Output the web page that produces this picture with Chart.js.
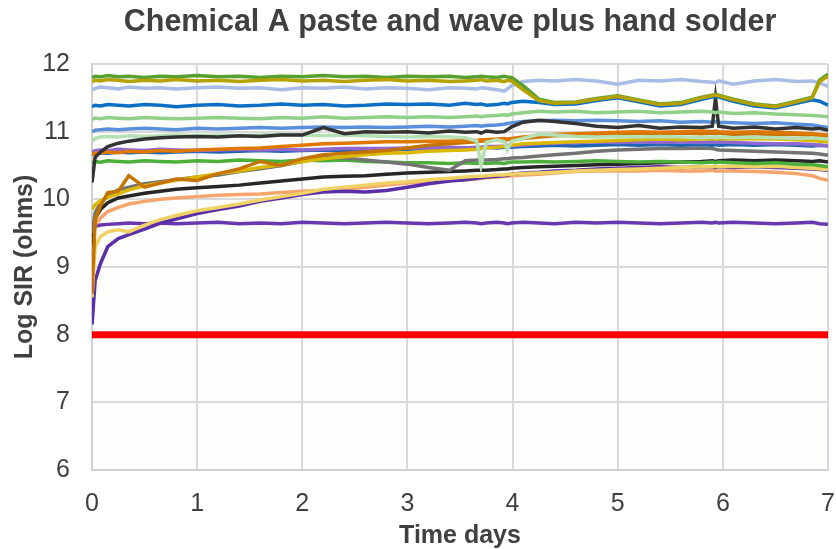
<!DOCTYPE html>
<html>
<head>
<meta charset="utf-8">
<script src="https://cdn.jsdelivr.net/npm/chart.js@4.4.1/dist/chart.umd.min.js"></script>
<style>
  html, body { margin: 0; padding: 0; background: #ffffff; }
  #wrap { width: 836px; height: 549px; position: relative; }
</style>
</head>
<body>
<div id="wrap"><canvas id="c" width="836" height="549"></canvas></div>
<script>
const chartTitle = "Chemical A paste and wave plus hand solder";
const xTitle = "Time days";
const yTitle = "Log SIR (ohms)";
const xTicks = [0, 1, 2, 3, 4, 5, 6, 7];
const yTicks = [6, 7, 8, 9, 10, 11, 12];

const days = [
  0, 0.03, 0.08, 0.15, 0.25, 0.35, 0.5, 0.65, 0.8, 1,
  1.2, 1.4, 1.6, 1.8, 2, 2.2, 2.4, 2.6, 2.8, 3,
  3.2, 3.4, 3.55, 3.66, 3.7, 3.75, 3.85, 3.92, 3.95, 3.99,
  4.1, 4.25, 4.4, 4.6, 4.8, 5, 5.2, 5.4, 5.6, 5.8,
  5.9, 5.93, 5.96, 6.1, 6.3, 6.5, 6.7, 6.85, 6.92, 7
];

const greenTop = [
  11.80, 11.82, 11.81, 11.83, 11.81, 11.82, 11.80, 11.82, 11.81, 11.83,
  11.81, 11.82, 11.80, 11.82, 11.81, 11.83, 11.81, 11.82, 11.80, 11.82,
  11.81, 11.82, 11.80, 11.81, 11.82, 11.81, 11.80, 11.82, 11.81, 11.80,
  11.68, 11.48, 11.43, 11.44, 11.49, 11.53, 11.47, 11.41, 11.43, 11.51,
  11.54, 11.55, 11.54, 11.48, 11.41, 11.38, 11.45, 11.51, 11.76, 11.85
];
const olive = [
  11.74, 11.76, 11.75, 11.77, 11.76, 11.74, 11.76, 11.75, 11.77, 11.75,
  11.76, 11.74, 11.76, 11.77, 11.75, 11.76, 11.74, 11.76, 11.77, 11.75,
  11.76, 11.74, 11.75, 11.76, 11.77, 11.75, 11.76, 11.74, 11.76, 11.75,
  11.62, 11.46, 11.42, 11.43, 11.48, 11.52, 11.46, 11.40, 11.42, 11.50,
  11.53, 11.54, 11.53, 11.47, 11.40, 11.37, 11.44, 11.50, 11.74, 11.82
];
const lavender = [
  11.62, 11.64, 11.66, 11.65, 11.63, 11.66, 11.64, 11.65, 11.63, 11.65,
  11.66, 11.64, 11.65, 11.62, 11.65, 11.64, 11.66, 11.63, 11.65, 11.64,
  11.62, 11.65, 11.64, 11.63, 11.65, 11.64, 11.62, 11.60, 11.63, 11.68,
  11.74, 11.76, 11.75, 11.77, 11.75, 11.70, 11.76, 11.75, 11.77, 11.74,
  11.73, 11.72, 11.75, 11.70, 11.75, 11.77, 11.74, 11.75, 11.72, 11.67
];
const blue = [
  11.37, 11.39, 11.38, 11.40, 11.39, 11.38, 11.40, 11.39, 11.37, 11.39,
  11.40, 11.38, 11.39, 11.41, 11.39, 11.40, 11.38, 11.39, 11.41, 11.40,
  11.41, 11.39, 11.42, 11.40, 11.41, 11.39, 11.40, 11.42, 11.41, 11.43,
  11.45, 11.43, 11.40, 11.41, 11.46, 11.50, 11.44, 11.38, 11.40, 11.48,
  11.51, 11.52, 11.51, 11.45, 11.38, 11.35, 11.42, 11.47, 11.45, 11.39
];
const lightGreen = [
  11.18, 11.20, 11.19, 11.21, 11.20, 11.19, 11.21, 11.20, 11.19, 11.20,
  11.21, 11.20, 11.19, 11.21, 11.20, 11.22, 11.20, 11.21, 11.22, 11.21,
  11.22, 11.21, 11.22, 11.23, 11.22, 11.23, 11.24, 11.25, 11.24, 11.26,
  11.28, 11.30, 11.29, 11.30, 11.28, 11.29, 11.30, 11.28, 11.29, 11.30,
  11.29, 11.28, 11.29, 11.27, 11.28, 11.26, 11.25, 11.24, 11.23, 11.22
];
const cornflower = [
  11.00, 11.02, 11.03, 11.04, 11.03, 11.04, 11.05, 11.04, 11.03, 11.05,
  11.04, 11.05, 11.06, 11.05, 11.06, 11.07, 11.06, 11.07, 11.06, 11.07,
  11.08, 11.07, 11.08, 11.09, 11.08, 11.09, 11.10, 11.11, 11.12, 11.13,
  11.15, 11.16, 11.17, 11.16, 11.17, 11.16, 11.15, 11.16, 11.14, 11.15,
  11.14, 11.15, 11.14, 11.13, 11.12, 11.13, 11.11, 11.10, 11.08, 11.06
];
const mint = [
  10.85, 10.90, 10.92, 10.93, 10.92, 10.94, 10.93, 10.94, 10.95, 10.94,
  10.95, 10.94, 10.95, 10.96, 10.95, 10.94, 10.95, 10.94, 10.93, 10.92,
  10.93, 10.92, 10.91, 10.86, 10.50, 10.84, 10.88, 10.85, 10.73, 10.86,
  10.90, 10.96, 10.95, 10.93, 10.92, 10.93, 10.92, 10.93, 10.92, 10.91,
  10.92, 10.91, 10.92, 10.91, 10.92, 10.91, 10.90, 10.91, 10.90, 10.89
];
const blackA = [
  10.25, 10.62, 10.70, 10.78, 10.83, 10.86, 10.89, 10.91, 10.92, 10.93,
  10.92, 10.94, 10.93, 10.95, 10.95, 11.06, 10.97, 11.00, 10.99, 11.00,
  10.98, 11.01, 10.99, 11.00, 10.98, 11.01, 10.99, 11.00, 11.03, 11.07,
  11.14, 11.17, 11.15, 11.12, 11.08, 11.06, 11.09, 11.05, 11.07, 11.06,
  11.08, 11.50, 11.08, 11.05, 11.07, 11.04, 11.06, 11.04, 11.05, 11.02
];
const orange = [
  10.66, 10.68, 10.69, 10.70, 10.69, 10.71, 10.70, 10.72, 10.71, 10.73,
  10.74, 10.75, 10.76, 10.78, 10.80, 10.82, 10.83, 10.84, 10.85, 10.85,
  10.86, 10.86, 10.87, 10.87, 10.88, 10.88, 10.89, 10.90, 10.89, 10.90,
  10.92, 10.94, 10.96, 10.97, 10.98, 10.99, 11.00, 10.99, 11.00, 11.01,
  11.00, 11.01, 11.00, 10.99, 11.00, 10.99, 10.98, 10.97, 10.96, 10.95
];
const purple = [
  10.70, 10.72, 10.73, 10.72, 10.74, 10.73, 10.72, 10.74, 10.73, 10.72,
  10.73, 10.74, 10.73, 10.74, 10.73, 10.74, 10.75, 10.75, 10.75, 10.76,
  10.76, 10.77, 10.76, 10.77, 10.77, 10.78, 10.78, 10.79, 10.80, 10.79,
  10.80, 10.82, 10.83, 10.84, 10.85, 10.84, 10.85, 10.84, 10.85, 10.84,
  10.85, 10.84, 10.85, 10.84, 10.83, 10.82, 10.82, 10.81, 10.80, 10.79
];
const greenB = [
  10.54, 10.56, 10.55, 10.57, 10.56, 10.55, 10.57, 10.56, 10.55, 10.57,
  10.56, 10.58, 10.57, 10.56, 10.58, 10.57, 10.58, 10.56, 10.55, 10.54,
  10.54, 10.53, 10.54, 10.53, 10.54, 10.53, 10.54, 10.53, 10.54, 10.55,
  10.55, 10.56, 10.55, 10.56, 10.57, 10.56, 10.55, 10.56, 10.55, 10.54,
  10.55, 10.54, 10.55, 10.54, 10.53, 10.54, 10.52, 10.51, 10.50, 10.48
];
const blueB = [
  10.66, 10.68, 10.69, 10.68, 10.70, 10.69, 10.70, 10.69, 10.70, 10.71,
  10.70, 10.71, 10.72, 10.71, 10.72, 10.73, 10.72, 10.74, 10.73, 10.74,
  10.75, 10.74, 10.76, 10.75, 10.76, 10.77, 10.76, 10.77, 10.78, 10.77,
  10.78, 10.79, 10.80, 10.79, 10.80, 10.81, 10.80, 10.81, 10.80, 10.81,
  10.80, 10.81, 10.80, 10.81, 10.80, 10.81, 10.80, 10.79, 10.80, 10.79
];
const goldYellow = [
  9.85, 9.92, 9.98, 10.03, 10.08, 10.14, 10.20, 10.24, 10.28, 10.33,
  10.38, 10.42, 10.47, 10.51, 10.56, 10.60, 10.63, 10.66, 10.68, 10.69,
  10.71, 10.72, 10.73, 10.74, 10.75, 10.76, 10.77, 10.78, 10.79, 10.80,
  10.82, 10.83, 10.84, 10.85, 10.86, 10.87, 10.88, 10.89, 10.88, 10.89,
  10.90, 10.89, 10.90, 10.89, 10.90, 10.89, 10.88, 10.87, 10.86, 10.85
];
const brown = [
  8.60, 9.70, 9.90, 10.10, 10.12, 10.35, 10.18, 10.24, 10.30, 10.28,
  10.38, 10.45, 10.56, 10.50, 10.60, 10.66, 10.68, 10.70, 10.72, 10.76,
  10.80, 10.82, 10.84, 10.85, 10.86, 10.87, 10.88, 10.87, 10.88, 10.89,
  10.90, 10.92, 10.94, 10.95, 10.96, 10.97, 10.98, 10.97, 10.98, 10.97,
  10.98, 10.97, 10.98, 10.96, 10.97, 10.95, 10.96, 10.94, 10.93, 10.92
];
const gray = [
  9.50, 9.80, 9.95, 10.05, 10.14, 10.18, 10.23, 10.26, 10.29, 10.33,
  10.36, 10.41, 10.45, 10.50, 10.56, 10.62, 10.61, 10.58, 10.55, 10.52,
  10.47, 10.43, 10.57, 10.58, 10.59, 10.58, 10.59, 10.60, 10.60, 10.61,
  10.62, 10.64, 10.66, 10.68, 10.71, 10.73, 10.74, 10.75, 10.75, 10.76,
  10.75, 10.74, 10.73, 10.72, 10.71, 10.70, 10.69, 10.68, 10.67, 10.65
];
const blackB = [
  9.30, 9.72, 9.85, 9.95, 10.02, 10.05, 10.09, 10.12, 10.15, 10.17,
  10.19, 10.21, 10.24, 10.27, 10.30, 10.33, 10.34, 10.35, 10.37, 10.39,
  10.40, 10.41, 10.42, 10.43, 10.43, 10.43, 10.44, 10.45, 10.45, 10.46,
  10.47, 10.48, 10.49, 10.50, 10.51, 10.52, 10.53, 10.54, 10.55, 10.56,
  10.57, 10.56, 10.57, 10.58, 10.57, 10.58, 10.57, 10.56, 10.57, 10.55
];
const lightYellow = [
  8.55, 9.30, 9.45, 9.52, 9.55, 9.52, 9.62, 9.70, 9.76, 9.83,
  9.88, 9.93, 9.99, 10.04, 10.09, 10.15, 10.18, 10.21, 10.24, 10.26,
  10.29, 10.31, 10.33, 10.34, 10.34, 10.35, 10.36, 10.36, 10.37, 10.37,
  10.38, 10.39, 10.40, 10.42, 10.43, 10.44, 10.45, 10.46, 10.47, 10.48,
  10.48, 10.49, 10.48, 10.49, 10.48, 10.49, 10.47, 10.46, 10.45, 10.44
];
const salmon = [
  9.40, 9.62, 9.72, 9.82, 9.88, 9.93, 9.97, 10.00, 10.02, 10.04,
  10.06, 10.07, 10.08, 10.10, 10.12, 10.13, 10.15, 10.18, 10.21, 10.24,
  10.26, 10.28, 10.29, 10.30, 10.31, 10.32, 10.33, 10.34, 10.34, 10.35,
  10.36, 10.37, 10.39, 10.41, 10.42, 10.42, 10.42, 10.43, 10.42, 10.42,
  10.43, 10.42, 10.42, 10.42, 10.41, 10.40, 10.38, 10.35, 10.31, 10.28
];
const darkPurple = [
  8.15, 8.80, 9.05, 9.30, 9.42, 9.48, 9.56, 9.65, 9.71, 9.79,
  9.85, 9.90, 9.97, 10.02, 10.07, 10.11, 10.12, 10.11, 10.13, 10.18,
  10.23, 10.27, 10.29, 10.31, 10.32, 10.33, 10.34, 10.35, 10.36, 10.37,
  10.39, 10.40, 10.42, 10.43, 10.45, 10.46, 10.47, 10.48, 10.47, 10.48,
  10.48, 10.47, 10.48, 10.47, 10.48, 10.47, 10.46, 10.45, 10.44, 10.43
];
const purpleFlat = [
  9.55, 9.60, 9.62, 9.63, 9.64, 9.65, 9.64, 9.65, 9.64, 9.65,
  9.66, 9.64, 9.65, 9.64, 9.66, 9.65, 9.64, 9.65, 9.66, 9.65,
  9.64, 9.65, 9.66, 9.65, 9.64, 9.65, 9.66, 9.65, 9.64, 9.65,
  9.66, 9.65, 9.64, 9.66, 9.65, 9.66, 9.65, 9.64, 9.65, 9.66,
  9.65, 9.66, 9.65, 9.66, 9.65, 9.64, 9.65, 9.66, 9.64, 9.63
];
const limitDays = [0, 7];
const limitValues = [8, 8];

// styles (kept apart from data)
const seriesStyles = [
  { name: "Limit", days: limitDays, values: limitValues, color: "#ff0000", width: 7 },
  { name: "S2", days: days, values: olive, color: "#b5a200", width: 3.5 },
  { name: "S1", days: days, values: greenTop, color: "#56a032", width: 3.5 },
  { name: "S4", days: days, values: blue, color: "#0b6fc6", width: 3.5 },
  { name: "S3", days: days, values: lavender, color: "#a8bde6", width: 3.5 },
  { name: "S5", days: days, values: lightGreen, color: "#90d088", width: 3.5 },
  { name: "S8", days: days, values: blackA, color: "#333333", width: 3.5 },
  { name: "S6", days: days, values: cornflower, color: "#5a8fdb", width: 3.5 },
  { name: "S7", days: days, values: mint, color: "#b4e0b4", width: 3.5 },
  { name: "S9", days: days, values: orange, color: "#e07800", width: 3.5 },
  { name: "S14", days: days, values: brown, color: "#c67400", width: 3.5 },
  { name: "S13", days: days, values: goldYellow, color: "#dcb800", width: 3.5 },
  { name: "S10", days: days, values: purple, color: "#9068d0", width: 3.5 },
  { name: "S12", days: days, values: blueB, color: "#1e64b4", width: 3.5 },
  { name: "S15", days: days, values: gray, color: "#737373", width: 3.5 },
  { name: "S11", days: days, values: greenB, color: "#4caf3a", width: 3.5 },
  { name: "S16", days: days, values: blackB, color: "#262626", width: 3.5 },
  { name: "S17", days: days, values: lightYellow, color: "#f0d264", width: 3.5 },
  { name: "S19", days: days, values: darkPurple, color: "#5a2ea8", width: 3.5 },
  { name: "S18", days: days, values: salmon, color: "#f4a46c", width: 3.5 },
  { name: "S20", days: days, values: purpleFlat, color: "#6838b0", width: 3.5 }
];

const datasets = seriesStyles.map(s => ({
  label: s.name,
  data: s.days.map((d, i) => ({ x: d, y: s.values[i] })),
  borderColor: s.color,
  backgroundColor: s.color,
  borderWidth: s.width,
  pointRadius: 0,
  tension: 0,
  fill: false
}));

const FONT = "'Liberation Sans', Arial, Helvetica, sans-serif";
const TXT = "#404040";

const bgPlugin = {
  id: "plotBg",
  beforeDraw(chart) {
    const a = chart.chartArea, ctx = chart.ctx;
    ctx.save();
    ctx.fillStyle = "#fdfdfb";
    ctx.fillRect(a.left, a.top, a.right - a.left, a.bottom - a.top);
    ctx.restore();
  }
};
const titlePlugin = {
  id: "centerTitle",
  afterDraw(chart) {
    const ctx = chart.ctx;
    ctx.save();
    ctx.font = "bold 30.5px " + FONT;
    ctx.fillStyle = TXT;
    ctx.textAlign = "center";
    ctx.textBaseline = "alphabetic";
    ctx.fillText(chartTitle, 450, 31);
    ctx.restore();
  }
};

new Chart(document.getElementById("c"), {
  type: "line",
  data: { datasets },
  plugins: [bgPlugin, titlePlugin],
  options: {
    responsive: false,
    animation: false,
    events: [],
    layout: { padding: { top: 64, right: 8, bottom: 0, left: 0 } },
    plugins: { legend: { display: false }, title: { display: false }, tooltip: { enabled: false } },
    scales: {
      x: {
        type: "linear",
        min: 0, max: 7,
        afterFit(s) { s.height = 79; },
        afterBuildTicks(s) { s.ticks = xTicks.map(v => ({ value: v })); },
        ticks: { color: TXT, font: { family: FONT, size: 25 }, padding: 0, maxRotation: 0 },
        grid: { color: "#d9d9d9", lineWidth: 2, drawTicks: true, tickLength: 19, tickColor: "rgba(0,0,0,0)" },
        border: { color: "#d0d0d0", width: 2 },
        title: { display: true, text: xTitle, color: TXT, font: { family: FONT, size: 25, weight: "bold", lineHeight: 1 }, padding: { top: 0, bottom: 0 } }
      },
      y: {
        type: "linear",
        min: 6, max: 12,
        afterFit(s) { s.width = 92; },
        afterBuildTicks(s) { s.ticks = yTicks.map(v => ({ value: v })); },
        ticks: { color: TXT, font: { family: FONT, size: 25 }, padding: 22 },
        grid: { color: "#d9d9d9", lineWidth: 2, drawTicks: false },
        border: { color: "#d0d0d0", width: 2 },
        title: { display: true, text: yTitle, color: TXT, font: { family: FONT, size: 25, weight: "bold", lineHeight: 1 }, padding: { top: 13, bottom: 0 } }
      }
    }
  }
});
</script>
</body>
</html>
